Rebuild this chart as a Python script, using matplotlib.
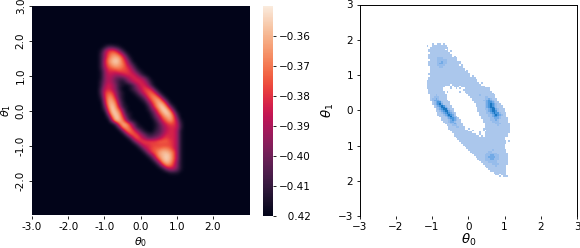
import numpy as np
import seaborn as sns

from matplotlib import pyplot as plt
from matplotlib.colors import LinearSegmentedColormap

OUTPUT_FILE = "out.png"

VMIN = -0.42
VMAX = -0.35
heat_rows = [
    "",
    "",
    "00013321",
    "001589852",
    "00269bb962",
    "0026acdc951",
    "0027bdeda73",
    "0027acdcb852",
    "00269abba9741",
    "00158889998631",
    "001577667888631",
    "0015764335788752",
    "00257642135788741",
    "00268752101368862",
    "00378752001" + "3579972",
    "0038a9631001" + "368aa72",
    "0028bb7310001" + "369bb72",
    "0017cc94100001" + "37acc72",
    "0006cdb52000001" + "48bdc71",
    "0004bec72100000" + "26adeb51",
    "00029eda51000001" + "47beea4",
    "00006dec72100000" + "259ced82",
    "00002aed941000001" + "46acda4",
    "000006ddb62100000" + "258aca61",
    "0000003adc8410000" + "13689972",
    "00000004bca621000" + "13578872",
    "000000004ab963100" + "23578861",
    "000000000" + "49a9642234688861",
    "0000000000" + "38a864456898861",
    "00000000000" + "3799999aaa9861",
    "000000000000" + "2688999999861",
    "0000000000000" + "2689aabba861",
    "00000000000000" + "269acddca61",
    "000000000000000" + "259cdeda61",
    "0000000000000000" + "26adeda61",
    "00000000000000000" + "26bdc951",
    "000000000000000000" + "26aa851",
    "0000000000000000000" + "146641",
    "000000000000000000000" + "111",
    "",
    "",
]

hist_starts = [
    4, 1, 3, 2, 2, 3, 2, 2, 2, 3, 2, 2, 2, 3, 3, 3, 3, 2, 3, 2,
    2, 1, 1, 1, 1, 1, 2, 2, 2, 3, 3, 3, 3, 4, 4, 5, 5, 6, 6, 7,
    7, 8, 9, 9, 10, 11, 12, 13, 13, 14, 15, 16, 16, 17, 18, 19, 20, 21, 22, 23,
    24, 25, 26, 27, 28, 29, 30, 31, 32, 33, 34, 35, 36, 38, 39, 41,
]
hist_cells = [
    "1..11.1",
    "1..11111111",
    "1111111111",
    "111111111.1",
    "11111111111.1",
    "11111111111",
    "1111111111111",
    "1111111111111.1",
    "1111122211111111",
    "111122222111111",
    "111112232211111111",
    "111112332211111111",
    "11111222211111111.1",
    "111112211111111111",
    "1111111111111111111",
    "1111111111111111111.1",
    "111111111111111111111",
    "11111111111111111111111",
    "1111111111111111111111.1",
    "11111111111111111111111111",
    "111111111111111111111111111",
    "1111111111111111111111111111",
    "11111111111111111111111111111.1",
    "1111111111111.1111111111111111",
    "1111111111...1.111.1111111111111",
    "111111111....1..1.1..11111111111111",
    "11111111...........111111111111111",
    "111111111.1......1..111111111111111",
    "111111111............111111111111111",
    "111211111............111111211111111",
    "112221111.............11111111221111",
    "122321111..............11111112232111",
    "1233321111.............11111122343211",
    "1234421111.............11111123443211",
    "1234531111..............11111234543211",
    "1234542111.............111112345432111",
    "1223553211..............11112345542111",
    "1234553211.............111122345532111",
    "1123455321.............111112345542111",
    "1123454321.............111122345442111",
    "1112345431.............111112234543211",
    "1112345321.............11112234432111",
    "1112344321............111112233321111",
    "11112343211............11112223211111",
    "1112332111............11111222211111",
    "1112232111............11111122211111",
    "111222111............11111112111111",
    "111122111...........11111111111111",
    "111111111..1.......111111111111111",
    "1111111111..1.....1.1111111111111",
    "11111111111....1..11111111111111",
    "111111111111..1..1111111111111",
    "11111111111111.1.1111111111111",
    "111111111111111111111111111",
    "11111111111111111111111111",
    "11111111111111111111111111.1",
    "1111111111111111111111111",
    "11111111111111111111111",
    "1111111111111111111111",
    "111111111111111111111",
    "111111111111121111111",
    "11111111112211111111",
    "11111111222222111111",
    "1111112223322211111",
    "111112233332211111",
    "11112223322211111",
    "1112222222111111",
    "111122222111111",
    "11111222211111",
    "111111211111",
    "11111111111",
    "1111111111",
    "111111111",
    "1111111",
    "11.111",
    "1.111",
]

x_ticks = [-3, -2, -1, 0, 1, 2]
heat_y_ticks = [3, 2, 1, 0, -1, -2]
hist_ticks = [-3, -2, -1, 0, 1, 2, 3]
hist_x_labels = ["\u22123", "\u22122", "\u22121", "0", "1", "2", "3"]
hist_y_labels = ["\u22123", "2", "1", "0", "1", "2", "3"]
cbar_ticks = [-0.42, -0.41, -0.40, -0.39, -0.38, -0.37, -0.36]
cbar_labels = ["\u2007\u20090.42", "\u22120.41", "\u22120.40", "\u22120.39", "\u22120.38", "\u22120.37", "\u22120.36"]

fig = plt.figure(figsize=(5.8, 2.48), dpi=100)

# Heatmap, padded out to the full -3..3 range with the background level
ax = fig.add_axes([32 / 580, 1 - 215.5 / 248, 217 / 580, 209.5 / 248])
levels = np.array([[int(c, 16) for c in r.ljust(27, "0")] for r in heat_rows])
heat = VMIN + levels * (VMAX - VMIN) / 15
heat = np.pad(heat, ((10, 10), (17, 17)), constant_values=VMIN)
im = ax.imshow(heat, cmap="rocket", vmin=VMIN, vmax=VMAX, interpolation="bicubic",
               extent=[-3.05, 3.05, -3.05, 3.05], aspect="auto")
ax.set_xlim(-3, 3)
ax.set_ylim(-3, 3)
ax.set_xticks(x_ticks, labels=["%.1f" % t for t in x_ticks], fontsize=7.5)
ax.set_yticks(heat_y_ticks, labels=["%.1f" % t for t in heat_y_ticks], fontsize=7.5,
              rotation=90, va="center")
ax.tick_params(length=2.5, width=0.6, pad=2)
ax.set_xlabel(r"$\theta_0$", fontsize=8, labelpad=2.5)
ax.set_ylabel(r"$\theta_1$", fontsize=8, labelpad=2)
for s in ax.spines.values():
    s.set_visible(False)

cax = fig.add_axes([263 / 580, 1 - 215.5 / 248, 10 / 580, 209.5 / 248])
cb = fig.colorbar(im, cax=cax)
cb.set_ticks(cbar_ticks, labels=cbar_labels)
cb.ax.tick_params(labelsize=7.5, length=2.5, width=0.6, pad=2)
cb.outline.set_visible(False)

# Histogram
ax2 = fig.add_axes([359.5 / 580, 1 - 216 / 248, 217.5 / 580, 211.5 / 248])
n_cols = 48
counts = np.zeros((len(hist_cells), n_cols))
for i, r in enumerate(hist_cells):
    for j, c in enumerate(r):
        if c != ".":
            counts[i, hist_starts[i] + j] = int(c)
x_edges = -1.2 + 0.05 * np.arange(n_cols + 1)
y_edges = 1.9 - 0.05 * np.arange(len(hist_cells) + 1)
blues = LinearSegmentedColormap.from_list("hist_blues", ["#abc7ec", "#96bceb", "#72aae6", "#4a96dc", "#1a76c2"])
ax2.pcolormesh(x_edges, y_edges, np.ma.masked_equal(counts, 0), cmap=blues, vmin=1, vmax=5)
ax2.set_xlim(-3, 3)
ax2.set_ylim(-3, 3)
ax2.set_xticks(hist_ticks, labels=hist_x_labels, fontsize=7.5)
ax2.set_yticks(hist_ticks, labels=hist_y_labels, fontsize=7.5)
ax2.tick_params(length=2.5, width=0.6, pad=2)
ax2.set_xlabel(r"$\theta_0$", fontsize=9.5, labelpad=0)
ax2.set_ylabel(r"$\theta_1$", fontsize=9.5, labelpad=1)
ax2.spines["bottom"].set_visible(False)
for name in ["left", "right", "top"]:
    ax2.spines[name].set_linewidth(0.7)

plt.savefig(OUTPUT_FILE, dpi=100)
